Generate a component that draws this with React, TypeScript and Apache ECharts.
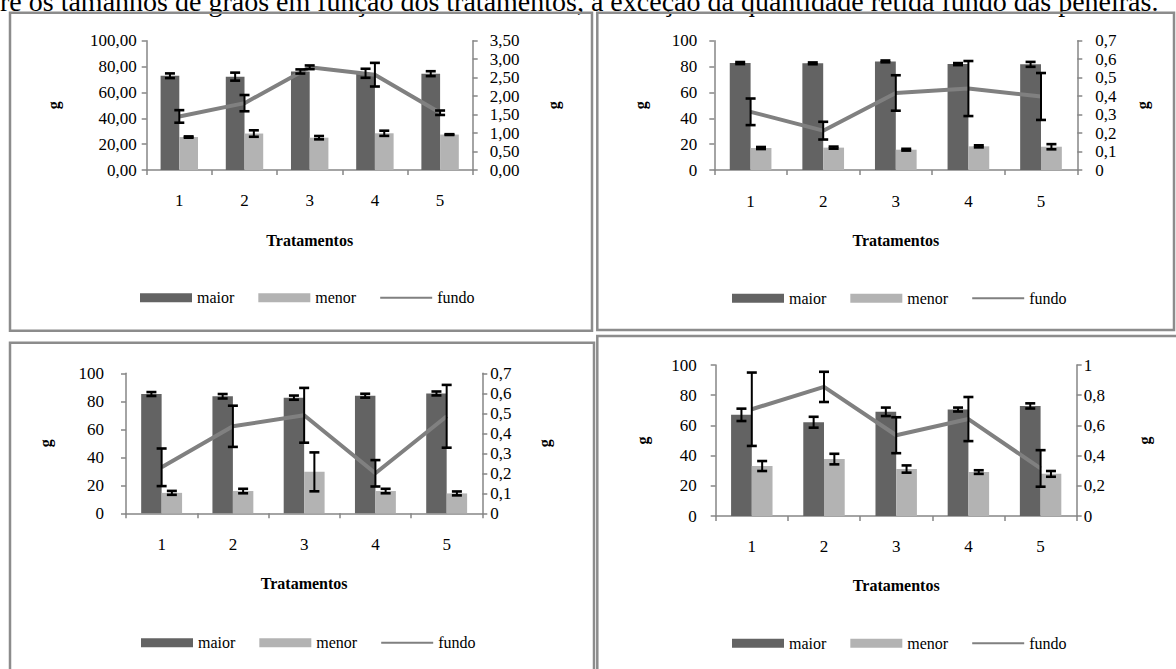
import React, { useEffect, useRef } from 'react';
import * as echarts from 'echarts';

// ---------- data ----------
const categories = ['1', '2', '3', '4', '5'];

// Panel A (top left)
const maiorA = [72.9, 72.2, 76.2, 74.8, 74.5];
const maiorErrA = [1.8, 3.1, 1.6, 3.5, 1.9];
const menorA = [25.5, 28.2, 25.0, 28.4, 27.4];
const menorErrA = [0.5, 2.5, 1.3, 2.0, 0.3];
const fundoA = [1.45, 1.81, 2.78, 2.58, 1.55];
const fundoErrA = [0.17, 0.22, 0.05, 0.32, 0.06];

// Panel B (top right)
const maiorB = [82.7, 82.5, 84.0, 81.9, 81.7];
const maiorErrB = [0.8, 0.7, 0.7, 0.8, 1.9];
const menorB = [17.0, 17.3, 15.7, 18.3, 18.0];
const menorErrB = [0.8, 0.8, 0.7, 0.8, 2.0];
const fundoB = [0.315, 0.213, 0.417, 0.441, 0.398];
const fundoErrB = [0.072, 0.048, 0.096, 0.149, 0.127];

// Panel C (bottom left)
const maiorC = [85.2, 83.6, 82.6, 84.0, 85.6];
const maiorErrC = [1.4, 1.6, 1.5, 1.4, 1.4];
const menorC = [14.6, 15.9, 29.6, 15.9, 14.2];
const menorErrC = [1.4, 1.6, 13.9, 1.6, 1.4];
const fundoC = [0.23, 0.435, 0.49, 0.2, 0.485];
const fundoErrC = [0.094, 0.103, 0.137, 0.066, 0.157];

// Panel D (bottom right)
const maiorD = [67.0, 62.1, 69.0, 70.5, 72.9];
const maiorErrD = [4.1, 3.6, 2.8, 1.3, 1.7];
const menorD = [33.1, 37.7, 31.1, 29.1, 27.9];
const menorErrD = [3.3, 3.5, 2.4, 1.2, 1.9];
const fundoD = [0.707, 0.855, 0.535, 0.642, 0.315];
const fundoErrD = [0.243, 0.1, 0.119, 0.146, 0.121];

const seriesNames = ['maior', 'menor', 'fundo'];
const xTitle = 'Tratamentos';
const yTitle = 'g';
const caption =
  're os tamanhos de grãos em função dos tratamentos, à exceção da quantidade retida fundo das peneiras.';

// ---------- styles / layout ----------
const FONT = 'Liberation Serif';
const AXIS = '#868686';
const C_MAIOR = '#636363';
const C_MENOR = '#b3b3b3';
const C_FUNDO = '#808080';
const BORDER = '#8c8c8c';
const LINE_ICON = 'path://M0,0 L0.01,0 L0.01,0.01 Z M0,3.5 L52,3.5 L52,5.5 L0,5.5 Z M51.99,9 L52,9 L52,8.99 Z';

const panels = [
  {
    maior: maiorA, maiorErr: maiorErrA, menor: menorA, menorErr: menorErrA, fundo: fundoA, fundoErr: fundoErrA,
    rightMax: 3.5, rightInterval: 0.5, leftDec: 2, rightDec: 2,
    grid: { left: 146.7, top: 40.7, width: 326, height: 129.3 },
    lMargin: 10, rMargin: 17, catMargin: 22, xNameGap: 62, lNameGap: 85, rNameGap: 73,
    legend: { left: 140, top: 289.7 },
  },
  {
    maior: maiorB, maiorErr: maiorErrB, menor: menorB, menorErr: menorErrB, fundo: fundoB, fundoErr: fundoErrB,
    rightMax: 0.7, rightInterval: 0.1, leftDec: 0, rightDec: 1,
    grid: { left: 714.3, top: 40.7, width: 363, height: 129.3 },
    lMargin: 17, rMargin: 18, catMargin: 23, xNameGap: 62, lNameGap: 66, rNameGap: 57,
    legend: { left: 732, top: 290.3 },
  },
  {
    maior: maiorC, maiorErr: maiorErrC, menor: menorC, menorErr: menorErrC, fundo: fundoC, fundoErr: fundoErrC,
    rightMax: 0.7, rightInterval: 0.1, leftDec: 0, rightDec: 1,
    grid: { left: 126, top: 373.3, width: 356.3, height: 140 },
    lMargin: 22, rMargin: 8, catMargin: 23, xNameGap: 62, lNameGap: 73, rNameGap: 54,
    legend: { left: 141, top: 634.7 },
  },
  {
    maior: maiorD, maiorErr: maiorErrD, menor: menorD, menorErr: menorErrD, fundo: fundoD, fundoErr: fundoErrD,
    rightMax: 1, rightInterval: 0.2, leftDec: 0, rightDec: 1,
    grid: { left: 715.7, top: 365, width: 361, height: 151 },
    lMargin: 19, rMargin: 7, catMargin: 21.5, xNameGap: 61, lNameGap: 65, rNameGap: 60,
    legend: { left: 732, top: 635.3 },
  },
];

const BAR_FRAC = 0.287;

const fmt = (dec: number, fixed: boolean) => (v: number) => {
  if (fixed) return v.toFixed(dec).replace('.', ',');
  if (v === 0) return '0';
  return String(Number(v.toFixed(dec))).replace('.', ',');
};

const errRender = (offsetFrac: number) => (params: any, api: any) => {
  const k = api.value(0);
  const lo = api.coord([k, api.value(1)]);
  const hi = api.coord([k, api.value(2)]);
  const bw = api.size([1, 0])[0];
  const x = lo[0] + offsetFrac * bw;
  const cap = 5;
  return {
    type: 'group',
    children: [
      { type: 'line', shape: { x1: x, y1: lo[1], x2: x, y2: hi[1] }, style: { stroke: '#000', lineWidth: 2 } },
      { type: 'line', shape: { x1: x - cap, y1: lo[1], x2: x + cap, y2: lo[1] }, style: { stroke: '#000', lineWidth: 2.6 } },
      { type: 'line', shape: { x1: x - cap, y1: hi[1], x2: x + cap, y2: hi[1] }, style: { stroke: '#000', lineWidth: 2.6 } },
    ],
  };
};

const toErr = (vals: number[], errs: number[]) => vals.map((v, k) => [k, v - errs[k], v + errs[k]]);

function buildOption() {
  const grid: any[] = [];
  const xAxis: any[] = [];
  const yAxis: any[] = [];
  const series: any[] = [];
  const legend: any[] = [];
  const axisLine = { show: true, lineStyle: { color: AXIS, width: 1.5 } };
  const axisTick = { show: true, length: 5, lineStyle: { color: AXIS, width: 1.5 } };
  const labelStyle = { color: '#000', fontFamily: FONT, fontSize: 17 };
  const nameStyle = { color: '#000', fontFamily: FONT, fontSize: 16, fontWeight: 'bold' };

  panels.forEach((p, i) => {
    grid.push({ ...p.grid, containLabel: false });
    xAxis.push({
      type: 'category', gridIndex: i, data: categories,
      axisLine, axisTick, axisLabel: { ...labelStyle, margin: p.catMargin },
      splitLine: { show: false },
      name: xTitle, nameLocation: 'middle', nameGap: p.xNameGap, nameTextStyle: nameStyle,
    });
    yAxis.push({
      type: 'value', gridIndex: i, position: 'left', min: 0, max: 100, interval: 20,
      axisLine, axisTick, splitLine: { show: false },
      axisLabel: { ...labelStyle, margin: p.lMargin, formatter: fmt(p.leftDec, p.leftDec > 0) },
      name: yTitle, nameLocation: 'middle', nameRotate: 90, nameGap: p.lNameGap, nameTextStyle: nameStyle,
    });
    yAxis.push({
      type: 'value', gridIndex: i, position: 'right', min: 0, max: p.rightMax, interval: p.rightInterval,
      axisLine, axisTick, splitLine: { show: false },
      axisLabel: { ...labelStyle, margin: p.rMargin, formatter: fmt(p.rightDec, p.leftDec > 0) },
      name: yTitle, nameLocation: 'middle', nameRotate: 90, nameGap: p.rNameGap, nameTextStyle: nameStyle,
    });
    const xi = i, yl = 2 * i, yr = 2 * i + 1;
    series.push({
      type: 'bar', name: seriesNames[0], xAxisIndex: xi, yAxisIndex: yl, data: p.maior,
      barWidth: BAR_FRAC * 100 + '%', barGap: '0%', itemStyle: { color: C_MAIOR }, z: 2,
    });
    series.push({
      type: 'bar', name: seriesNames[1], xAxisIndex: xi, yAxisIndex: yl, data: p.menor,
      barWidth: BAR_FRAC * 100 + '%', barGap: '0%', itemStyle: { color: C_MENOR }, z: 2,
    });
    series.push({
      type: 'line', name: seriesNames[2], xAxisIndex: xi, yAxisIndex: yr, data: p.fundo,
      symbol: 'none', showSymbol: false, lineStyle: { color: C_FUNDO, width: 4 }, itemStyle: { color: C_FUNDO }, z: 3,
    });
    series.push({
      type: 'custom', xAxisIndex: xi, yAxisIndex: yl, data: toErr(p.maior, p.maiorErr),
      encode: { x: 0, y: [1, 2] }, renderItem: errRender(-BAR_FRAC / 2), z: 5, silent: true,
    });
    series.push({
      type: 'custom', xAxisIndex: xi, yAxisIndex: yl, data: toErr(p.menor, p.menorErr),
      encode: { x: 0, y: [1, 2] }, renderItem: errRender(BAR_FRAC / 2), z: 5, silent: true,
    });
    series.push({
      type: 'custom', xAxisIndex: xi, yAxisIndex: yr, data: toErr(p.fundo, p.fundoErr),
      encode: { x: 0, y: [1, 2] }, renderItem: errRender(0), z: 6, silent: true,
    });
    legend.push({
      left: p.legend.left, top: p.legend.top, padding: 0, orient: 'horizontal',
      itemWidth: 52, itemHeight: 9, itemGap: 24, selectedMode: false,
      textStyle: { color: '#000', fontFamily: FONT, fontSize: 16 },
      data: [
        { name: seriesNames[0], icon: 'rect', itemStyle: { color: C_MAIOR } },
        { name: seriesNames[1], icon: 'rect', itemStyle: { color: C_MENOR } },
        { name: seriesNames[2], icon: LINE_ICON, itemStyle: { color: C_FUNDO } },
      ],
    });
  });

  const graphic: any[] = [
    {
      type: 'text', x: 0, y: 1, silent: true,
      style: { text: caption, fontFamily: FONT, fontSize: 28, fill: '#000', verticalAlign: 'middle', align: 'left' },
    },
    { type: 'rect', shape: { x: 10, y: 12.7, width: 582, height: 318 }, style: { fill: 'none', stroke: BORDER, lineWidth: 2.5 }, silent: true },
    { type: 'rect', shape: { x: 597.3, y: 12.7, width: 576.7, height: 317.3 }, style: { fill: 'none', stroke: BORDER, lineWidth: 2.5 }, silent: true },
    { type: 'rect', shape: { x: 10, y: 342.7, width: 584, height: 360 }, style: { fill: 'none', stroke: BORDER, lineWidth: 2.5 }, silent: true },
    { type: 'rect', shape: { x: 597.3, y: 336, width: 620, height: 360 }, style: { fill: 'none', stroke: BORDER, lineWidth: 2.5 }, silent: true },
  ];

  return {
    animation: false,
    backgroundColor: '#ffffff',
    textStyle: { fontFamily: FONT },
    grid, xAxis, yAxis, series, legend, graphic,
  };
}

export default function App() {
  const ref = useRef<HTMLDivElement>(null);
  useEffect(() => {
    if (!ref.current) return;
    const chart = echarts.init(ref.current, undefined, { renderer: 'svg' });
    chart.setOption(buildOption() as any);
    return () => chart.dispose();
  }, []);
  return (
    <div
      ref={ref}
      style={{ position: 'absolute', left: 0, top: 0, width: 1176, height: 669, background: '#fff' }}
    />
  );
}
